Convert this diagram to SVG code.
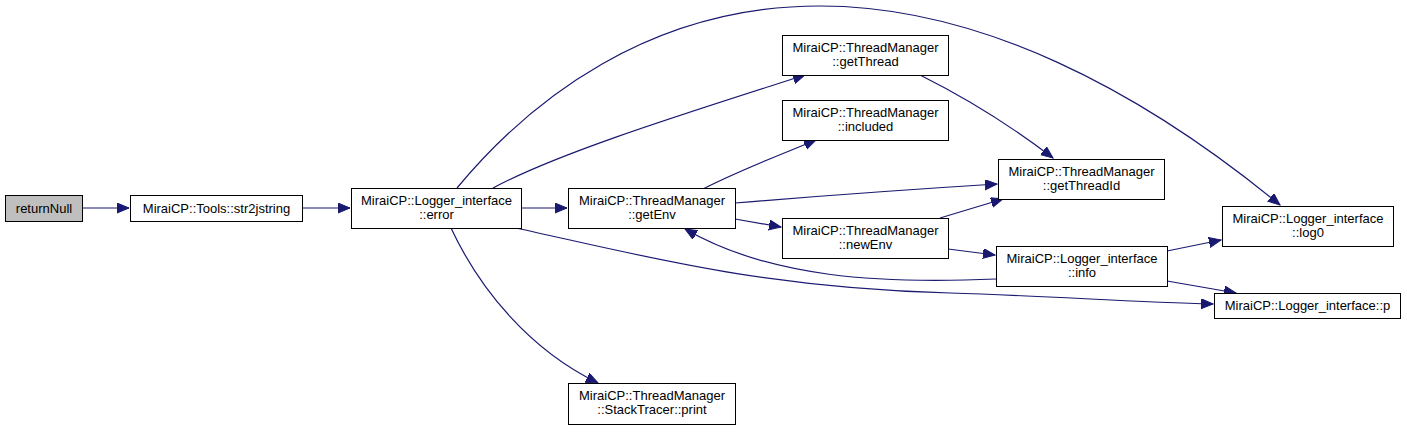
<svg xmlns="http://www.w3.org/2000/svg" width="1407" height="432" viewBox="0 0 1407 432">
<style>
.n rect{fill:#fff;stroke:#000;stroke-width:1}
.n text{font-family:"Liberation Sans",Arial,sans-serif;font-size:13px;fill:#000;text-anchor:middle}
.e path{fill:none;stroke:#191970;stroke-width:1.2}
</style>
<defs>
<marker id="a" markerUnits="userSpaceOnUse" markerWidth="14" markerHeight="12" refX="12" refY="5" orient="auto" viewBox="0 0 14 12">
<path d="M0,0 L12,5 L0,10 Z" fill="#191970" stroke="#191970"/>
</marker>
</defs>
<rect width="1407" height="432" fill="#fff"/>
<g class="e">
<path d="M82,208 L129,208" marker-end="url(#a)"/>
<path d="M302,208 L350,208" marker-end="url(#a)"/>
<path d="M521,208 L567,208" marker-end="url(#a)"/>
<path d="M493,188 C560,152 690,112 805,75" marker-end="url(#a)"/>
<path d="M457,188 C530,100 650,6 820,6 C980,6 1140,90 1280,205" marker-end="url(#a)"/>
<path d="M516,228 C640,255 760,288 950,293 C1050,296 1130,302 1213,304" marker-end="url(#a)"/>
<path d="M451,228 C480,290 530,350 598,383" marker-end="url(#a)"/>
<path d="M703,189 C740,170 780,155 816,140" marker-end="url(#a)"/>
<path d="M735,203 C820,196 900,190 997,184" marker-end="url(#a)"/>
<path d="M735,219 L781,227" marker-end="url(#a)"/>
<path d="M920,75 C960,95 1010,125 1053,158" marker-end="url(#a)"/>
<path d="M940,218 L1003,199" marker-end="url(#a)"/>
<path d="M948,249 L995,255" marker-end="url(#a)"/>
<path d="M996,279 C880,284 770,278 685,229" marker-end="url(#a)"/>
<path d="M1167,251 L1221,240" marker-end="url(#a)"/>
<path d="M1167,281 L1236,293" marker-end="url(#a)"/>
</g>
<g id="returnNull" class="n"><rect x="5.5" y="195.5" width="77" height="26" style="fill:#bfbfbf"/><text x="44" y="213">returnNull</text></g>
<g id="str2jstring" class="n"><rect x="130.5" y="195.5" width="172" height="26"/><text x="216.5" y="213">MiraiCP::Tools::str2jstring</text></g>
<g id="error" class="n"><rect x="351.5" y="188.5" width="170" height="40"/><text x="436.5" y="205">MiraiCP::Logger_interface</text><text x="436.5" y="219">::error</text></g>
<g id="getEnv" class="n"><rect x="568.5" y="188.5" width="167" height="40"/><text x="652" y="205">MiraiCP::ThreadManager</text><text x="652" y="219">::getEnv</text></g>
<g id="getThread" class="n"><rect x="782.5" y="35.5" width="166" height="40"/><text x="865.5" y="52">MiraiCP::ThreadManager</text><text x="865.5" y="66">::getThread</text></g>
<g id="included" class="n"><rect x="782.5" y="100.5" width="166" height="40"/><text x="865.5" y="117">MiraiCP::ThreadManager</text><text x="865.5" y="131">::included</text></g>
<g id="newEnv" class="n"><rect x="782.5" y="218.5" width="166" height="40"/><text x="865.5" y="235">MiraiCP::ThreadManager</text><text x="865.5" y="249">::newEnv</text></g>
<g id="getThreadId" class="n"><rect x="998.5" y="159.5" width="166" height="40"/><text x="1081.5" y="176">MiraiCP::ThreadManager</text><text x="1081.5" y="190">::getThreadId</text></g>
<g id="info" class="n"><rect x="996.5" y="246.5" width="171" height="40"/><text x="1082" y="263">MiraiCP::Logger_interface</text><text x="1082" y="277">::info</text></g>
<g id="log0" class="n"><rect x="1222.5" y="206.5" width="171" height="40"/><text x="1308" y="223">MiraiCP::Logger_interface</text><text x="1308" y="237">::log0</text></g>
<g id="p" class="n"><rect x="1214.5" y="293.5" width="186" height="25"/><text x="1307.5" y="310">MiraiCP::Logger_interface::p</text></g>
<g id="print" class="n"><rect x="568.5" y="383.5" width="167" height="41"/><text x="652" y="400">MiraiCP::ThreadManager</text><text x="652" y="414">::StackTracer::print</text></g>
</svg>
